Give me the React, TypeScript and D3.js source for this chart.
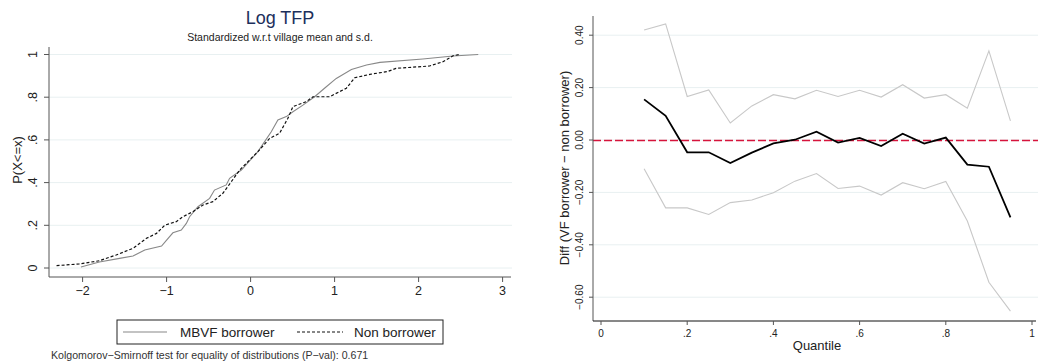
import React from 'react';
import * as d3 from 'd3';

// ECDF points: [x, P(X<=x)]
const mbvfX = [-2.02, -1.8, -1.56, -1.4, -1.26, -1.06, -1.0, -0.925, -0.825, -0.765, -0.726, -0.627, -0.488, -0.43, -0.29, -0.25, -0.11, 0.087, 0.167, 0.246, 0.325, 0.425, 0.504, 0.623, 0.762, 0.88, 1.02, 1.2, 1.38, 1.54, 2.05, 2.41, 2.71];
const mbvfP = [0.005, 0.028, 0.045, 0.056, 0.084, 0.103, 0.131, 0.165, 0.178, 0.209, 0.24, 0.287, 0.326, 0.365, 0.389, 0.42, 0.459, 0.545, 0.592, 0.638, 0.693, 0.709, 0.732, 0.763, 0.802, 0.842, 0.888, 0.93, 0.951, 0.963, 0.979, 0.993, 1.0];
const nonX = [-2.31, -2.04, -1.8, -1.6, -1.4, -1.24, -1.12, -1.02, -0.885, -0.806, -0.687, -0.567, -0.449, -0.33, -0.23, -0.13, 0.087, 0.226, 0.345, 0.444, 0.504, 0.663, 0.742, 0.94, 1.14, 1.24, 1.42, 1.63, 1.73, 2.13, 2.29, 2.41, 2.49];
const nonP = [0.011, 0.019, 0.034, 0.061, 0.092, 0.139, 0.162, 0.201, 0.217, 0.24, 0.264, 0.295, 0.311, 0.35, 0.404, 0.459, 0.545, 0.607, 0.631, 0.701, 0.756, 0.779, 0.802, 0.802, 0.842, 0.891, 0.907, 0.92, 0.935, 0.946, 0.966, 0.994, 1.0];

const leftXTicks = [-2, -1, 0, 1, 2, 3];
const leftYTicks = [0, 0.2, 0.4, 0.6, 0.8, 1];

// quantile regression diff (VF borrower - non borrower) and its band
const quantiles = [0.1, 0.15, 0.2, 0.25, 0.3, 0.35, 0.4, 0.45, 0.5, 0.55, 0.6, 0.65, 0.7, 0.75, 0.8, 0.85, 0.9, 0.95];
const diff = [0.155, 0.092, -0.047, -0.047, -0.088, -0.048, -0.013, 0.001, 0.032, -0.01, 0.008, -0.023, 0.024, -0.014, 0.009, -0.094, -0.102, -0.295];
const upper = [0.42, 0.443, 0.166, 0.191, 0.065, 0.13, 0.173, 0.157, 0.19, 0.166, 0.19, 0.164, 0.211, 0.16, 0.173, 0.121, 0.34, 0.073];
const lower = [-0.11, -0.259, -0.259, -0.284, -0.239, -0.229, -0.201, -0.157, -0.128, -0.185, -0.176, -0.21, -0.163, -0.186, -0.158, -0.309, -0.543, -0.653];

const rightXTicks = [0, 0.2, 0.4, 0.6, 0.8, 1];
const rightYTicks = [0.4, 0.2, 0, -0.2, -0.4, -0.6];

const font = 'Liberation Sans, Arial, Helvetica, sans-serif';
const grid = '#e8f0f1';
const axisCol = '#555';

const fmtLeft = (v: number) => (v === 0 ? '0' : v === 1 ? '1' : d3.format('.1f')(v).replace(/^0/, ''));
const fmtRight = (v: number) => d3.format('.2f')(v).replace('-', '\u2212');

export default function App() {
  // left panel
  const lx = d3.scaleLinear().domain([-2.4, 3.1]).range([49, 511]);
  const ly = d3.scaleLinear().domain([0, 1]).range([268, 54.5]);

  const mbvfPath = d3.line<number>().x((d) => lx(d)).y((_, i) => ly(mbvfP[i]))(mbvfX) || '';
  const nonPath = d3.line<number>().x((d) => lx(d)).y((_, i) => ly(nonP[i]))(nonX) || '';

  // right panel
  const rx = d3.scaleLinear().domain([0, 1]).range([601, 1032]);
  const ry = d3.scaleLinear().domain([0, 0.2]).range([140, 87.6]);
  const qLine = (vals: number[]) =>
    d3.line<number>().x((d) => rx(d)).y((_, i) => ry(vals[i]))(quantiles) || '';

  return (
    <svg width={1038} height={364} style={{ position: 'absolute', left: 0, top: 0, background: '#fff' }} fontFamily={font}>
      {/* left: ECDF */}
      <text x={280} y={24} textAnchor="middle" fontSize={18} fill="#1c2f5c">Log TFP</text>
      <text x={280} y={41} textAnchor="middle" fontSize={10.5} fill="#222">Standardized w.r.t village mean and s.d.</text>

      {leftYTicks.map((t) => (
        <line key={'lg' + t} x1={49} x2={512} y1={ly(t)} y2={ly(t)} stroke={grid} strokeWidth={1} />
      ))}

      <path d={mbvfPath} fill="none" stroke="#888" strokeWidth={1.1} />
      <path d={nonPath} fill="none" stroke="#111" strokeWidth={1.2} strokeDasharray="3,2" />

      <line x1={49} x2={49} y1={47} y2={277} stroke={axisCol} strokeWidth={1} />
      <line x1={49} x2={511} y1={277} y2={277} stroke={axisCol} strokeWidth={1} />
      {leftYTicks.map((t) => (
        <g key={'ly' + t}>
          <line x1={44} x2={49} y1={ly(t)} y2={ly(t)} stroke={axisCol} />
          <text transform={`translate(37,${ly(t)}) rotate(-90)`} textAnchor="middle" fontSize={12.5} fill="#222">{fmtLeft(t)}</text>
        </g>
      ))}
      {leftXTicks.map((t) => (
        <g key={'lx' + t}>
          <line x1={lx(t)} x2={lx(t)} y1={277} y2={282} stroke={axisCol} />
          <text x={lx(t)} y={295} textAnchor="middle" fontSize={12.5} fill="#222">{t < 0 ? '\u2212' + Math.abs(t) : t}</text>
        </g>
      ))}
      <text transform="translate(22,160) rotate(-90)" textAnchor="middle" fontSize={13} fill="#222">P(X&lt;=x)</text>

      {/* legend */}
      <rect x={117} y={320} width={326} height={24} fill="#fff" stroke="#222" strokeWidth={1} />
      <line x1={123} x2={167} y1={332} y2={332} stroke="#888" strokeWidth={1.1} />
      <text x={180} y={337} fontSize={13.5} fill="#222">MBVF borrower</text>
      <line x1={297} x2={343} y1={332} y2={332} stroke="#111" strokeWidth={1.2} strokeDasharray="3,2" />
      <text x={354} y={337} fontSize={13.5} fill="#222">Non borrower</text>

      <text x={51} y={359} fontSize={10.6} fill="#333">Kolgomorov{'\u2212'}Smirnoff test for equality of distributions (P{'\u2212'}val):  0.671</text>

      {/* right: quantile differences */}
      {rightYTicks.map((t) => (
        <line key={'rg' + t} x1={593} x2={1038} y1={ry(t)} y2={ry(t)} stroke={grid} strokeWidth={1} />
      ))}
      <line x1={593} x2={1038} y1={ry(0) + 0.5} y2={ry(0) + 0.5} stroke="#d6143c" strokeWidth={1.3} strokeDasharray="8,3" />

      <path d={qLine(upper)} fill="none" stroke="#c8c8c8" strokeWidth={1.1} />
      <path d={qLine(lower)} fill="none" stroke="#c8c8c8" strokeWidth={1.1} />
      <path d={qLine(diff)} fill="none" stroke="#000" strokeWidth={1.8} />

      <line x1={593} x2={593} y1={16} y2={321} stroke={axisCol} strokeWidth={1} />
      <line x1={593} x2={1036} y1={321} y2={321} stroke="#111" strokeWidth={1} />
      {rightYTicks.map((t) => (
        <g key={'ry' + t}>
          <line x1={589} x2={593} y1={ry(t)} y2={ry(t)} stroke={axisCol} />
          <text transform={`translate(583,${ry(t)}) rotate(-90)`} textAnchor="middle" fontSize={10} fill="#222">{fmtRight(t)}</text>
        </g>
      ))}
      {rightXTicks.map((t) => (
        <g key={'rx' + t}>
          <line x1={rx(t)} x2={rx(t)} y1={321} y2={325} stroke={axisCol} />
          <text x={rx(t)} y={337} textAnchor="middle" fontSize={10} fill="#222">{fmtLeft(t)}</text>
        </g>
      ))}
      <text x={817} y={350} textAnchor="middle" fontSize={13} fill="#222">Quantile</text>
      <text transform="translate(569,168) rotate(-90)" textAnchor="middle" fontSize={13} fill="#222">Diff (VF borrower {'\u2212'} non borrower)</text>
    </svg>
  );
}
